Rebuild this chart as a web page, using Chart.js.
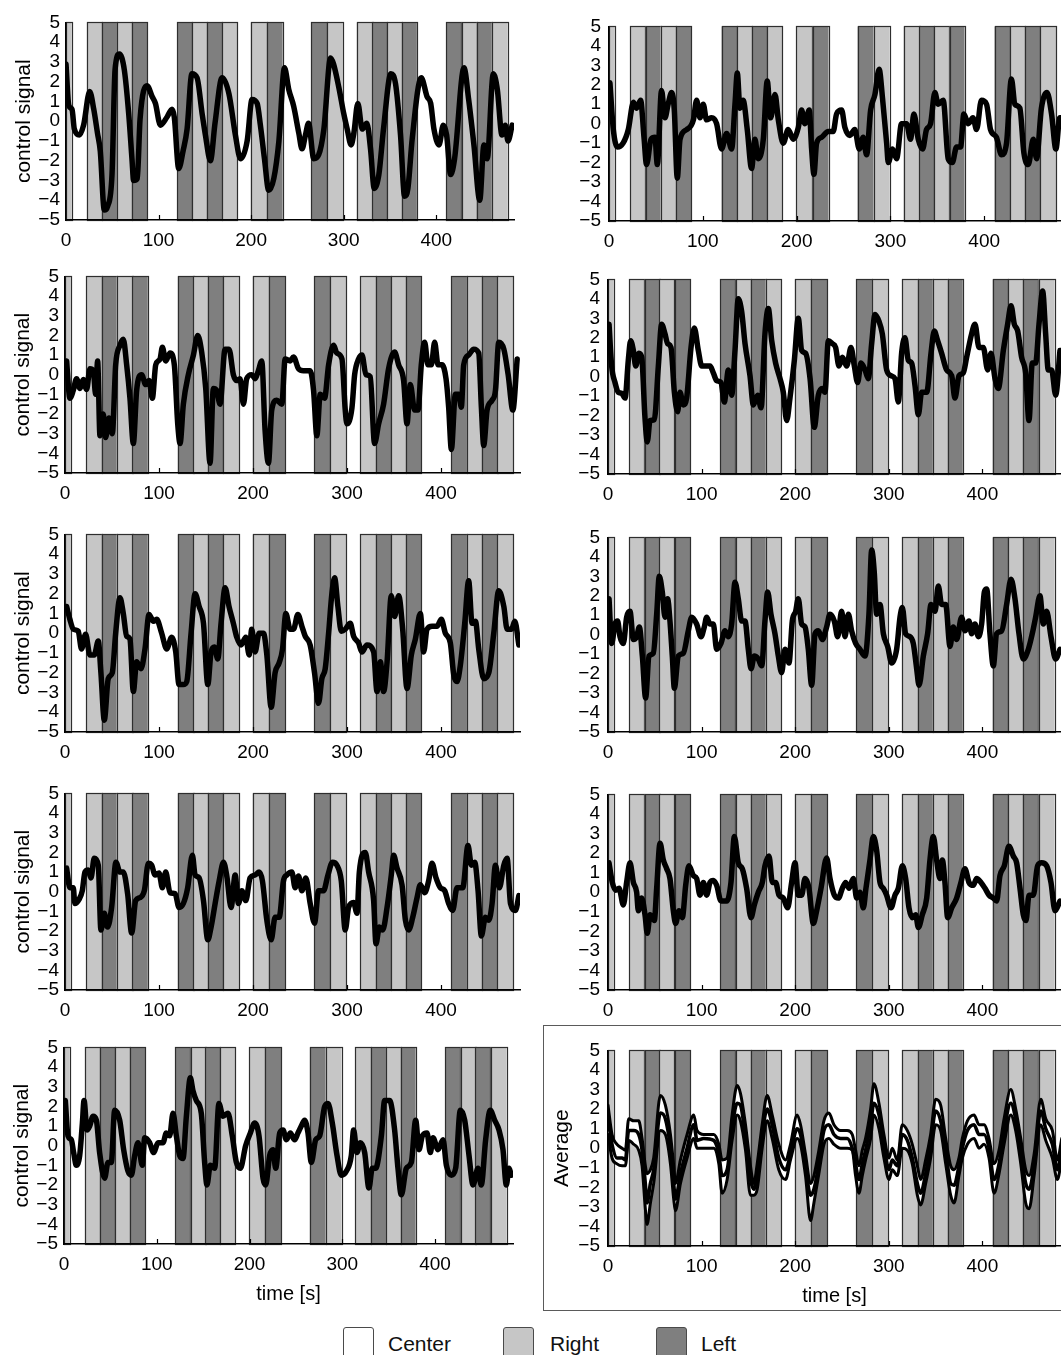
<!DOCTYPE html>
<html>
<head>
<meta charset="utf-8">
<script src="https://cdn.jsdelivr.net/npm/chart.js@4.4.0/dist/chart.umd.min.js"></script>
<style>
  html, body { margin: 0; padding: 0; background: #fff; }
  body { width: 1061px; height: 1355px; overflow: hidden; position: relative; font-family: 'Liberation Sans', Arial, sans-serif; }
  canvas { position: absolute; }
  .frame { position: absolute; left: 543px; top: 1025px; width: 540px; height: 284px; border: 1px solid #5a5a5a; }
  .key { position: absolute; top: 1327px; width: 31px; height: 34px; border: 1px solid #4a4a4a; border-radius: 3px; box-sizing: border-box; }
  .keytxt { position: absolute; top: 1333px; font-size: 21px; line-height: 21px; color: #111; }
</style>
</head>
<body>
<div class="frame"></div>
<div class="key" style="left:343px; background:#ffffff;"></div>
<div class="keytxt" style="left:388px;">Center</div>
<div class="key" style="left:503px; background:#c6c6c6;"></div>
<div class="keytxt" style="left:550px;">Right</div>
<div class="key" style="left:656px; background:#7f7f7f;"></div>
<div class="keytxt" style="left:701px;">Left</div>
<script>
// stimulus blocks (seconds)
const blockStart = [0, 22.5, 39, 55, 71.5, 120, 136.5, 152.5, 168.5, 199.5, 217, 265, 282, 314, 331, 347, 363, 411, 427.5, 443.5, 460];
const blockEnd   = [6, 39, 55, 71.5, 88, 136.5, 152.5, 168.5, 185, 217, 234, 282, 299, 331, 347, 363, 379, 427.5, 443.5, 460, 477];
const blockCond  = ['Right','Right','Left','Right','Left','Left','Right','Left','Right','Right','Left','Left','Right','Right','Left','Right','Left','Left','Right','Left','Right'];

const xTicks = [0, 100, 200, 300, 400];
const yTicks = [-5, -4, -3, -2, -1, 0, 1, 2, 3, 4, 5];

// control signals, [time s, value]
const sigL1 = [[0,2.9],[3,0.8],[6.5,0.6],[9,-0.4],[14.4,-0.7],[19,-0.2],[25.6,1.5],[30,0.6],[34,-0.6],[37,-1.5],[41.4,-4.5],[45,-4.3],[49.7,-2.7],[53,2.6],[57.7,3.4],[63,2.6],[67.7,0.4],[71.4,-2.0],[73,-3.0],[77,-2.9],[80,0.1],[87.6,1.8],[93,1.25],[96.6,0.9],[102,-0.2],[109,0.2],[114.6,0.6],[117,0.2],[121.8,-2.4],[126.5,-1.5],[130.8,-0.4],[136,2.4],[141.6,2.2],[147,0.4],[150.6,-0.7],[156,-2.0],[161,-0.1],[168.6,2.2],[176,1.4],[183,-0.7],[188.5,-1.9],[195.7,-1.0],[201,1.1],[206.5,0.9],[210,-0.2],[214.4,-1.9],[219,-3.5],[224.5,-2.9],[230,-1.0],[236,2.7],[240.7,1.6],[246,0.75],[251.5,-0.6],[255,-1.4],[258.7,-0.7],[262,-0.1],[267.7,-1.9],[273,-1.7],[278.6,-0.4],[285.8,3.2],[289,2.9],[294.8,1.7],[300,0.4],[303.8,-0.4],[308,-1.2],[311,-0.6],[315.3,0.9],[320,-0.4],[325,-0.1],[329,-1.4],[333,-3.4],[338,-2.7],[343,-0.4],[351,2.4],[356,1.9],[361.4,-0.7],[365.8,-3.8],[369.4,-3.4],[374,-0.9],[383.8,2.2],[390,1.25],[394,0.9],[397.5,-0.4],[403,-1.2],[407.6,-0.2],[411.2,-0.7],[415.5,-2.7],[419.8,-1.9],[430,2.7],[435,1.1],[440.7,-1.2],[447,-4.0],[451.5,-1.2],[455,-1.9],[461.6,2.4],[466,1.6],[471,-0.7],[474.6,-0.2],[477.5,-1.0],[482,-0.2]];

const sigL2 = [[1.7,0.7],[5.2,-1.2],[8.8,-0.8],[12.3,-0.2],[15.9,-0.7],[19.4,-0.25],[23,-0.75],[26.5,0.3],[30.1,0.2],[32.6,-1.0],[34.7,0.7],[37.2,-3.1],[40.7,-2.0],[43.2,-3.2],[46.8,-2.2],[50.3,-3.0],[53.9,0.5],[58.5,1.5],[62,1.8],[65.6,0.5],[69.1,-1.2],[72.7,-3.5],[76.2,-0.8],[81.5,0],[85.8,-0.5],[89.4,-0.3],[92.9,-1.2],[96.5,0.5],[101.1,0.8],[103.6,1.4],[107.1,0.7],[111.7,1.1],[116.3,0.5],[119.9,-2.5],[122.4,-3.5],[125.9,-1.5],[131.2,0],[136.6,1.0],[141.2,2.0],[145.4,1.15],[149.7,-0.7],[154.3,-4.5],[157.8,-0.7],[161.4,-0.8],[164.9,-1.5],[170.3,1.3],[174.5,1.3],[179.1,0],[182.7,-0.3],[186.2,-0.2],[189.8,-1.5],[193.3,-0.2],[198.6,0],[202.2,-0.2],[205.7,0.2],[209.3,0.7],[212.8,-2.8],[216.4,-4.5],[219.9,-1.8],[225.3,-1.3],[230.6,-1.5],[234.2,0.8],[239.5,0.7],[243.1,0.9],[248.4,0.3],[253.7,0.2],[260.8,0.2],[264.4,-0.8],[267.9,-3.1],[271.5,-1.0],[276.1,-1.2],[280.4,0.5],[285.7,1.5],[289.2,1.1],[294.6,0.8],[298.1,-1.8],[299.9,-2.5],[305.2,-1.7],[308.1,0],[312.3,0.8],[315.9,1.0],[320.1,0],[324.7,-0.1],[329.3,-3.5],[333.6,-2.5],[338.9,-1.5],[344.2,0.3],[350.6,1.15],[354.9,0.5],[360.2,-0.3],[363.8,-2.5],[367.3,-0.5],[371.9,-1.8],[375.5,-1.8],[379,0.5],[382.6,1.65],[386.1,0.5],[389.7,0.5],[393.2,1.65],[396.8,0.5],[401,0.5],[405.3,-0.2],[408.1,-1.65],[411,-3.8],[415.2,-1.0],[418.8,-1.0],[421.6,-1.65],[424.1,0.5],[429.4,1.0],[434.8,1.3],[440.1,1.1],[442.9,-1.65],[445.4,-3.6],[449,-1.8],[454.3,-1.3],[457.9,-0.8],[461.4,1.65],[466.8,1.3],[471.4,0],[476.4,-1.8],[481,0.8]];

const sigL3 = [[1.7,1.35],[5.2,0.7],[8.8,0.2],[14.1,0.1],[17.6,-0.8],[21.9,-0.05],[26.5,-1.1],[31.1,-1.1],[35.4,-0.4],[38.2,-2.0],[41.8,-4.4],[46,-2.3],[50.3,-2.0],[53.9,0],[58.5,1.8],[62,1.0],[65.6,-0.15],[69.1,-0.3],[72.7,-2.95],[76.2,-1.45],[80.8,-1.8],[85.1,-0.8],[89.4,0.95],[94,0.6],[97.5,0.7],[102.8,0],[108.2,-0.8],[113.5,-0.2],[117.8,-0.95],[121.3,-2.6],[125.9,-2.6],[129.5,-2.45],[134.1,0],[138.4,2.0],[142.7,1.35],[147.3,0.5],[151.9,-2.6],[155.4,-0.95],[158.9,-0.7],[162.5,-1.3],[166,0.5],[170.3,2.3],[174.5,1.35],[179.1,0.5],[182.7,-0.2],[187.3,-0.6],[192.3,-0.2],[195.9,-1.1],[198.6,0.2],[202.2,-0.95],[206.5,0],[211.1,0],[214.7,-1.1],[219.3,-3.75],[223.5,-2.0],[227.8,-1.5],[231.4,-0.8],[234.9,1.0],[239.5,0.2],[243.1,0.2],[247.7,0.95],[252,0.35],[255.5,-0.15],[260.8,-0.6],[265.4,-2.0],[269.7,-3.55],[273.2,-2.3],[276.8,-1.8],[280.4,0],[283.9,2.0],[286.8,2.8],[290.3,1.35],[293.9,0.1],[298.1,0.2],[303.4,0.5],[307,-0.15],[312.3,-0.5],[315.9,-0.95],[321.2,-0.6],[328.3,-0.95],[331.9,-2.95],[335.5,-1.45],[338.9,-2.95],[342.6,-1.45],[347.1,1.9],[350.6,0.85],[354.9,1.9],[359.2,0.2],[363.8,-2.8],[368.4,-1.1],[372.7,-0.3],[378,1.0],[381.5,-0.95],[385.1,0.2],[390.4,0.35],[395.7,0.35],[400.3,0.7],[404.6,0],[409.9,-0.5],[413.5,-2.1],[417,-2.45],[420.6,-1.6],[425.2,0.5],[429.4,2.65],[433,0.5],[436.6,0.6],[440.1,-0.8],[445.4,-2.3],[450.8,-2.0],[456.1,0],[461.4,2.15],[466.8,1.35],[470.3,0.2],[475,0.2],[478.5,0.6],[482.8,-0.6]];

const sigL4 = [[1.7,1.2],[5.2,0.2],[8.8,0.2],[10.5,-0.6],[14.8,-0.4],[18.4,0.05],[21.2,1.0],[24.7,1.1],[27.6,0.7],[31.1,1.7],[35.4,1.35],[38.2,-1.95],[41.8,-1.1],[45.3,-1.8],[49.6,-0.8],[54.2,1.5],[58.5,1.0],[62,1.0],[66.6,-0.1],[70.9,-2.1],[75.2,-0.45],[79.8,-0.3],[84.4,0.05],[88.7,1.45],[92.2,1.35],[95.8,0.85],[100,0.95],[103.6,0.2],[107.1,1.0],[111.7,-0.05],[117.1,-0.1],[121.3,-0.8],[125.9,-0.6],[130.5,0.2],[135.5,1.85],[138.4,0.85],[142.7,0.7],[147.3,-0.45],[151.9,-2.45],[155.4,-1.8],[159.7,-0.6],[164,0.55],[168.6,1.5],[172.1,0.8],[176.7,-0.8],[181,0.85],[184.5,-0.6],[188.1,0.05],[192.3,-0.45],[196.9,0.7],[202.2,0.85],[206.5,1.0],[210,0.55],[214.7,-1.45],[219.3,-2.45],[223.5,-1.3],[227.8,-1.3],[232.4,0.55],[236,0.85],[241.3,1.0],[244.8,0.2],[248.4,0.8],[252,0.05],[256.2,0.7],[260.8,-0.6],[265.4,-1.6],[269.7,0.05],[275,0.05],[279.7,0.85],[284.6,1.5],[289.2,1.35],[293.9,0.55],[298.1,-1.95],[301.7,-0.8],[307,-0.55],[310.6,-1.1],[313.1,1.0],[319.4,2.0],[323,1.0],[328.3,-0.45],[330.8,-2.65],[334.4,-1.8],[337.9,-1.95],[342.6,-0.8],[347.1,0.85],[349.6,1.85],[353.2,1.2],[358.5,0.35],[362.1,-1.45],[365.6,-1.95],[369.9,-1.3],[374.5,-0.3],[378,0.35],[382.6,-0.05],[386.8,0.55],[390.4,1.45],[394.7,0.7],[399.3,0.2],[403.9,0.05],[408.1,-0.6],[412.4,-0.95],[417,0.2],[423.1,0.2],[428.7,2.35],[432.3,1.35],[435.8,1.5],[439.4,0.05],[442.9,-2.25],[447.2,-1.3],[450.8,-1.45],[454.3,-0.6],[457.9,1.35],[462.1,0.2],[466.8,1.35],[470.3,1.7],[473.9,-0.6],[479.2,-0.95],[482.8,-0.2]];

const sigL5 = [[1.4,2.3],[4.3,0.5],[7.9,0.3],[10.4,-0.35],[13.3,-1.0],[16.9,-0.5],[19.8,1.15],[21.6,2.3],[24.8,0.8],[27.7,1.0],[31.3,1.5],[34.9,1.3],[38.4,-0.35],[43.8,-1.65],[47.4,-0.85],[51,-0.85],[54.6,1.8],[60,1.3],[64.3,-0.2],[69,-1.3],[72.6,-1.5],[76.2,-0.5],[79.8,0.15],[84.4,-1.0],[87,0.4],[92.3,0.15],[96.7,-0.35],[101.3,0.15],[106.7,0.15],[110.3,0.65],[113.9,0.5],[117.5,1.65],[121.1,0.5],[124.7,-0.5],[128.3,-0.65],[131.9,1.5],[136.2,3.45],[139,2.8],[142.6,2.3],[148,1.65],[151.6,-0.85],[154.1,-2.0],[157.7,-1.0],[162.4,-1.15],[167,2.15],[171.4,1.5],[176.8,1.65],[181.4,0.5],[185.8,-0.85],[190.1,-1.15],[195.8,0],[200.9,0.65],[205.5,1.15],[210.2,0.5],[214.5,-1.65],[217.4,-2.0],[221.7,-0.5],[225.3,-0.2],[228.2,-1.15],[232.5,0.65],[236.1,0.8],[239.7,0.3],[244,0.65],[248.6,0.3],[252.2,0.65],[255.8,1.0],[259.4,1.3],[263,0.65],[266.6,-0.85],[271.3,0.3],[275.6,0.5],[281,2.0],[284.6,2.15],[289.2,1.15],[294.3,-0.5],[298.9,-1.5],[304.3,-1.3],[309.7,-0.5],[312.2,0.8],[315.8,-0.35],[319.4,0.15],[324.1,-0.35],[328.7,-2.15],[332.3,-1.15],[335.9,-1.15],[342.1,0.5],[345.6,2.3],[351,2.3],[356.4,0.8],[360,-1.15],[363.6,-2.5],[369,-1.15],[374.4,-0.85],[379.1,1.3],[382.7,-0.2],[386.3,0.5],[391.3,0.65],[394.9,-0.35],[397.8,0.4],[403.2,-0.2],[408.6,0.3],[412.2,-1.0],[417.6,-1.5],[422.2,-1.15],[427.2,1.8],[431.9,1.3],[436.6,-0.5],[440.9,-2.0],[446.3,-1.15],[449.8,-2.0],[454.5,0.3],[459.5,1.8],[464.2,1.3],[468.9,0.8],[473.2,-0.2],[476.8,-2.0],[479.7,-1.15],[482.2,-1.5]];

const sigR1 = [[1,2.1],[4.6,-0.3],[9,-1.2],[15,-1.0],[20.6,-0.3],[26,1.1],[29.5,0.8],[33.7,1.2],[37.3,-0.7],[40,-2.1],[44.8,-0.8],[49,-0.7],[51.5,-2.1],[56,1.7],[59.7,0.3],[63,1.0],[66.8,1.6],[69.6,0.7],[72.8,-2.8],[75.7,-0.8],[82.8,-0.3],[90,0.2],[93.4,1.2],[97,0.3],[100.5,1.0],[104,0.2],[109.4,0.3],[114.7,0],[120,-1.3],[125.4,-0.5],[130.7,-1.3],[134.3,1.0],[136.8,2.6],[139.6,0.8],[143,1.2],[147.4,-0.3],[152,-2.3],[155.6,-0.8],[159,-1.8],[164.5,-0.8],[168.7,2.2],[172.3,0.3],[177,1.5],[180.5,0.2],[185.8,-1.0],[191,-0.3],[196.4,-0.8],[201.8,-0.2],[205.3,0.7],[208.9,0],[213.5,0.7],[216,-1.3],[218.5,-2.6],[221.3,-1.0],[226.6,-0.7],[233.7,-0.4],[239,-0.4],[242.6,0.5],[248,0.7],[251.5,-0.2],[256.8,-0.6],[262,-0.3],[266.8,-1.3],[271,-0.7],[274.6,-1.6],[278.9,0.7],[283.5,1.5],[288,2.8],[291.6,1.3],[296,-1.0],[297.7,-2.0],[302.3,-1.3],[306.6,-1.8],[311.9,0],[317.2,0],[321.5,-0.8],[325,0.5],[329.7,-0.8],[334.3,-1.3],[338.5,-0.3],[342.8,0],[347.4,1.6],[351,1.0],[356.3,1.2],[361.6,-1.8],[366,-2.0],[370.5,-1.2],[374.8,-1.2],[378.3,0.5],[383,0],[388,0.3],[391.9,-0.3],[397,1.2],[402.5,1.0],[406.7,-0.3],[413,-0.7],[418.5,-1.6],[423.8,-1.0],[429,2.3],[432.7,1.0],[438,0.8],[442.3,-1.5],[447,-2.1],[452.3,-0.8],[455.8,-1.8],[461,0.8],[467,1.6],[471.8,0.5],[476.4,-1.3],[480.6,0.3],[484,0.3]];

const sigR2 = [[1.1,2.7],[3.9,0.55],[7.5,-0.3],[11,-0.8],[14.6,-0.85],[18.2,-1.1],[21.7,0.85],[24.2,1.85],[27.1,1.35],[29.6,0.55],[33.1,1.2],[36,1.0],[39.5,-2.1],[42,-3.35],[44.9,-2.25],[49.5,-2.2],[53.8,0.55],[57.3,2.7],[60.9,2.2],[63.7,1.7],[67.3,1.5],[70.9,-0.8],[74.4,-1.8],[76.9,-0.8],[80.5,-1.45],[84,-1.1],[88.7,1.5],[92.2,2.5],[96.5,1.35],[100.1,0.55],[104.3,0.55],[109,0.55],[112.5,0.2],[116.1,-0.2],[120.7,-0.3],[124.3,-1.3],[128.6,0.35],[132.1,-0.95],[135.7,1.35],[139.2,4.0],[142.8,3.35],[146.4,1.7],[151.7,0.05],[155.3,-1.45],[159.9,-0.95],[163.5,-1.6],[167.7,2.2],[171.3,3.5],[174.9,1.85],[179.1,0.7],[183.8,-0.1],[187.3,-0.8],[190.9,-2.25],[194.4,-1.1],[199.1,0.85],[203.3,3.0],[206.9,1.35],[211.2,1.2],[215.9,-0.1],[220.4,-2.6],[224.7,-0.95],[229,-0.6],[231.8,-0.8],[235.4,1.85],[239.7,1.7],[243.2,1.5],[246.8,0.55],[250.4,1.0],[255,0.55],[259.6,1.5],[263.2,0.55],[266.7,-0.3],[270.3,0.7],[274.6,0.35],[278.1,-0.1],[281.7,1.7],[285.3,3.2],[289.5,2.85],[293.1,2.2],[297.7,0.35],[302.4,0.05],[306.6,-0.1],[310.2,-1.3],[313.7,1.2],[317.3,2.0],[320.8,0.85],[324.4,0.7],[328,-0.45],[331.6,-1.95],[335.1,-0.8],[340.5,-0.8],[345.1,1.2],[348.6,2.35],[352.2,1.85],[356.5,1.2],[361.8,0.35],[367.2,0.05],[370.7,-1.1],[375,0.05],[379.6,0.2],[383.2,1.0],[388.5,2.2],[392.1,2.7],[396.4,1.5],[401,1.5],[405.6,0.35],[409.2,1.2],[413.5,-0.1],[417,-0.6],[422.4,1.35],[427,2.7],[430.6,3.65],[434.1,2.7],[437.7,2.35],[441.9,1.0],[446.2,0.2],[449.8,-2.25],[453.3,0.7],[456.9,0.7],[460.5,2.7],[464.4,4.4],[467.6,2.2],[470.4,0.35],[474,0.35],[478.3,-0.95],[482.9,1.35]];

const sigR3 = [[1.1,1.85],[3.9,-0.45],[7.5,0.55],[10.3,0.7],[12.8,-0.1],[16.4,-0.45],[19.9,0.9],[23.5,1.2],[27.1,-0.25],[30.6,-0.1],[33.5,0.4],[36.7,-1.1],[40.2,-3.25],[43.8,-1.1],[48.4,-0.95],[52,1.05],[54.8,3.0],[58,2.2],[60.9,0.9],[63.7,1.85],[66.2,0.7],[68.7,-1.1],[70.9,-2.75],[75.1,-1.1],[80.5,-0.95],[85.8,0.2],[89.4,0.9],[94.7,0.55],[99.4,-0.1],[102.9,0.4],[105.4,0.9],[109,0.55],[112.5,0.55],[116.1,-0.75],[120.7,-0.45],[125,0.2],[128.6,-0.1],[132.1,0.55],[135.7,2.7],[139.2,1.85],[142.8,0.7],[146.4,0.7],[149.9,-0.75],[152.8,-1.75],[156.3,-1.1],[160.6,-1.25],[164.2,-1.6],[167.7,0.7],[170.6,2.2],[174.1,1.05],[178.4,0.05],[182,-1.1],[185.5,-1.95],[189.1,-0.75],[193.4,-1.45],[196.9,0.7],[200.5,1.2],[203.3,1.85],[206.9,0.55],[210.5,0.4],[214,-0.75],[217.6,-2.6],[221.2,0.05],[224.7,0.2],[229,-0.25],[233.6,0.4],[237.2,1.05],[241.8,0.7],[245.4,-0.1],[249.6,1.2],[253.2,-0.1],[256.8,1.05],[260.3,0.2],[264.6,-0.45],[269.2,-0.75],[274.6,-1.1],[278.8,1.05],[281.7,4.35],[284.5,3.2],[287,1.05],[290.6,1.55],[294.2,0.05],[298.8,-0.6],[303.1,-1.45],[308.4,-0.75],[312,0.9],[314.5,1.4],[318,0.05],[322.6,-0.1],[326.2,-0.45],[329.8,-1.75],[332.3,-2.6],[336.9,-1.1],[341.5,0.05],[345.1,1.55],[349.4,1.2],[352.9,2.5],[356.5,1.55],[360.8,1.55],[365.4,-0.6],[368.9,0.4],[372.5,-0.25],[377.8,0.9],[381.4,0.2],[385.7,0.7],[388.5,0.05],[392.1,0.55],[395.7,-0.1],[399.2,0.55],[402.1,2.2],[404.6,2.35],[408.1,0.05],[411.7,-1.6],[415.2,0.05],[420.6,0.2],[425.9,1.55],[430.6,2.85],[434.8,1.85],[439.1,0.05],[443.7,-1.25],[449.1,-0.75],[453.3,0.05],[456.9,0.9],[461.5,2.0],[465.1,0.55],[468.7,1.2],[473.3,-0.1],[478.3,-1.25],[482.9,-0.75]];

const sigR4 = [[1.1,1.5],[4.6,0.5],[8.2,0.1],[11.8,0.2],[16.4,-0.65],[19.9,0.5],[23.5,1.5],[27.1,0.5],[30.6,0],[32.4,-0.95],[36,-0.3],[39.5,-1.15],[42,-2.1],[44.9,-1.15],[49.5,-1.45],[52,0.2],[55.6,2.5],[59.1,1.65],[62.7,1.2],[66.2,0.7],[69.8,-0.95],[72.3,-1.6],[75.8,-0.95],[79.4,-1.3],[83,0.35],[86.5,1.35],[91.2,0.85],[94.7,0.7],[98.3,-0.15],[101.9,0.5],[105.4,-0.15],[109,0.5],[112.5,0.6],[116.1,0.35],[120.7,-0.45],[126.8,-0.45],[131.4,0.5],[135,2.85],[139.2,1.5],[143.5,1.2],[148.1,0.2],[152.8,-1.3],[156.3,-0.65],[160.6,0],[164.9,0.5],[167.7,1.35],[172,1.85],[175.6,0.5],[179.1,0.5],[182.7,-0.15],[187.3,-0.3],[191.9,-0.8],[196.2,0.5],[199.8,1.5],[203.3,-0.15],[206.9,-0.15],[210.5,0.7],[214.7,0.2],[219.4,-1.6],[222.9,-0.95],[227.6,0.2],[233.6,1.75],[237.2,0.7],[241.8,-0.15],[246.1,-0.3],[250.4,0.2],[253.9,0.5],[257.5,0.2],[262.1,0.7],[265.7,-0.3],[269.2,0],[272.8,-0.8],[275.6,0.2],[279.9,1.65],[283.5,2.85],[287,2.15],[290.6,0.5],[294.2,0.2],[297.7,-0.15],[302.4,-0.8],[306.6,-0.15],[310.2,0.2],[314.5,1.35],[318,0.7],[321.6,-0.8],[325.1,-1.3],[328.7,-1.15],[331.6,-1.8],[335.8,-1.15],[340.5,-0.3],[344,1.65],[347.6,2.85],[351.1,1.65],[354.7,0.7],[357.2,1.65],[360,0.5],[362.9,-1.3],[367.2,-0.8],[372.5,-0.3],[377.1,0.5],[381.4,1.2],[385.7,0.5],[390.3,0.35],[393.9,0.7],[398.5,0.5],[402.8,0.2],[407.1,-0.15],[411.7,-0.3],[415.2,-0.45],[418.8,0.85],[423.4,1.35],[428.4,2.35],[433,1.85],[436.6,1.5],[440.2,0.2],[443.7,-1.15],[446.6,-1.45],[449.8,-0.15],[454.4,-0.15],[459,1.35],[463.3,1.5],[468.7,1.35],[473.3,0.5],[477.6,-0.95],[482.9,-0.45]];

// average panel: time, upper, mean, lower
const avgT = [0,4.3,9.6,15,18.5,22.1,27.5,32.8,36.4,39.9,41.7,45.3,48.8,56,61.3,66.7,70.2,72,77.4,84.5,91.6,95.2,102.3,113,118.4,121.9,127.3,132.6,138,141.5,146.9,152.2,155.8,159.4,164.7,170.1,175.4,182.5,189.7,195,202.1,205.7,211,216.4,220,225.3,230.7,236,241.4,248.5,255.6,261,264.5,268.1,271.7,275.2,280.6,284.1,289.5,294.8,300.2,303.7,309.1,314.4,319.8,325.1,330.5,334,339.4,344.7,350.1,355.4,360.8,366.1,369.7,375,378.6,384,391.1,396.4,401.8,407.1,412.5,417.8,423.2,430.3,435.6,441,446.3,449.9,455.3,462.4,467.7,474.8,480.2,484.8];
const avgUp = [2.2,0.7,0.2,0.0,-0.1,1.5,1.4,1.4,0.5,-0.9,-1.3,-1.1,-0.5,2.7,2.2,0.7,-0.9,-1.8,-0.6,0.7,1.7,0.9,0.7,0.7,0.2,-0.6,-0.5,1.7,3.2,2.8,1.2,-0.9,-1.8,-0.8,1.2,2.7,1.7,0.2,-0.6,0.2,1.7,1.2,-0.3,-1.8,-1.4,-0.1,1.4,1.8,1.2,0.9,0.9,0.7,-0.1,-0.9,-0.1,0.5,2.0,3.3,2.3,0.7,-0.5,0.0,-0.6,1.2,0.9,0.2,-0.9,-1.6,-0.6,0.7,2.5,2.2,0.5,-0.9,-1.1,-0.5,0.5,1.4,1.7,1.2,1.2,0.5,-0.8,-0.1,1.5,3.0,2.0,0.5,-1.1,-1.4,-0.3,2.5,1.5,0.9,-0.6,0.5];
const avgMid = [1.5,0.2,-0.5,-0.5,-0.6,0.9,0.9,0.7,-0.1,-1.8,-2.8,-1.8,-1.1,1.8,1.5,0.0,-1.8,-2.6,-1.3,0.0,1.2,0.4,0.5,0.4,-0.3,-1.4,-1.1,1.0,2.3,2.2,0.5,-1.6,-2.1,-1.4,0.7,2.0,1.2,-0.5,-1.1,-0.3,1.0,0.7,-0.9,-2.4,-2.1,-0.8,0.9,1.2,0.7,0.5,0.5,0.0,-0.8,-1.6,-0.8,-0.1,1.2,2.3,1.7,0.2,-1.1,-0.6,-0.9,0.7,0.4,-0.5,-1.8,-2.3,-1.3,0.2,1.9,1.4,-0.1,-1.8,-1.9,-0.9,0.0,0.9,1.2,0.7,0.7,0.0,-1.6,-0.8,0.9,2.3,1.5,-0.1,-1.8,-2.1,-0.9,1.9,1.0,0.2,-1.1,0.0];
const avgLo = [0.7,-0.5,-0.8,-0.9,-0.9,0.4,0.2,-0.1,-0.9,-3.1,-3.9,-2.8,-1.8,0.9,0.7,-0.8,-2.6,-3.2,-1.8,-0.5,0.5,0.0,0.0,0.0,-0.8,-2.3,-1.6,0.4,1.7,1.4,-0.1,-2.4,-2.4,-2.1,0.0,1.4,0.5,-1.1,-1.6,-0.6,0.5,0.2,-1.4,-3.7,-2.8,-1.3,0.2,0.5,0.2,0.0,0.0,-0.1,-1.4,-2.3,-1.4,-0.6,0.5,1.7,1.0,-0.5,-1.6,-1.1,-1.4,0.0,-0.1,-0.8,-2.4,-2.9,-1.8,-0.5,1.2,0.9,-0.8,-2.4,-2.8,-1.4,-0.5,0.2,0.5,0.0,0.2,-0.5,-2.3,-1.3,0.2,1.7,0.9,-0.8,-2.8,-3.1,-1.4,1.2,0.4,-0.5,-1.6,-0.5];

const condColor = { Right: '#c6c6c6', Left: '#7f7f7f' };

Chart.defaults.font.family = "'Liberation Sans', Arial, Helvetica, sans-serif";
Chart.defaults.color = '#000';

// panel placement: plot-area left/top and size in page pixels
const panels = [
  { sig: sigL1, left: 66, top: 17, w: 448, h: 203, yTitle: 'control signal' },
  { sig: sigL2, left: 65, top: 271, w: 455, h: 202, yTitle: 'control signal' },
  { sig: sigL3, left: 65, top: 529, w: 455, h: 203, yTitle: 'control signal' },
  { sig: sigL4, left: 65, top: 788, w: 455, h: 202, yTitle: 'control signal' },
  { sig: sigL5, left: 64, top: 1042, w: 449, h: 202, yTitle: 'control signal', xTitle: 'time [s]' },
  { sig: sigR1, left: 609, top: 19, w: 454, h: 202 },
  { sig: sigR2, left: 608, top: 272, w: 453, h: 202 },
  { sig: sigR3, left: 608, top: 530, w: 453, h: 202 },
  { sig: sigR4, left: 608, top: 787, w: 453, h: 203 },
  { avg: true, left: 608, top: 1043, w: 453, h: 203, yTitle: 'Average', xTitle: 'time [s]', titlePad: 8 }
];

const blocksPlugin = {
  id: 'blocks',
  beforeDraw(chart) {
    const { ctx, scales: { x, y } } = chart;
    const yTop = y.getPixelForValue(5), yBot = y.getPixelForValue(-5);
    ctx.save();
    blockStart.forEach((s, i) => {
      const x0 = x.getPixelForValue(s), x1 = x.getPixelForValue(blockEnd[i]);
      ctx.fillStyle = condColor[blockCond[i]];
      ctx.fillRect(x0, yTop, x1 - x0, yBot - yTop);
      ctx.strokeStyle = '#2e2e2e';
      ctx.lineWidth = 1.2;
      ctx.strokeRect(Math.round(x0) + 0.5, Math.round(yTop) + 0.5, Math.round(x1 - x0), Math.round(yBot - yTop));
    });
    ctx.restore();
  }
};

// small inward tick marks on the time axis
const inTicksPlugin = {
  id: 'inTicks',
  beforeDatasetsDraw(chart) {
    const { ctx, scales: { x, y } } = chart;
    const yb = y.getPixelForValue(-5);
    ctx.save();
    ctx.strokeStyle = '#000';
    ctx.lineWidth = 1.2;
    xTicks.forEach(v => {
      if (v === 0) return;
      const px = Math.round(x.getPixelForValue(v)) + 0.5;
      ctx.beginPath();
      ctx.moveTo(px, yb);
      ctx.lineTo(px, yb - 5);
      ctx.stroke();
    });
    ctx.restore();
  }
};

function toXY(pairs) { return pairs.map(p => ({ x: p[0], y: p[1] })); }
function zipXY(ts, vs) { return ts.map((t, i) => ({ x: t, y: vs[i] })); }

panels.forEach(p => {
  const yW = 66, padTop = 12, padRight = 6;
  const xH = p.xTitle ? 66 : 40;
  const c = document.createElement('canvas');
  c.width = yW + p.w + padRight;
  c.height = padTop + p.h + xH;
  c.style.left = (p.left - yW) + 'px';
  c.style.top = (p.top - padTop) + 'px';
  document.body.appendChild(c);

  let datasets;
  if (p.avg) {
    datasets = [
      { data: zipXY(avgT, avgUp), borderColor: '#000', borderWidth: 3, fill: { target: 2 }, backgroundColor: '#fff' },
      { data: zipXY(avgT, avgMid), borderColor: '#000', borderWidth: 3.5, fill: false },
      { data: zipXY(avgT, avgLo), borderColor: '#000', borderWidth: 3, fill: false }
    ];
  } else {
    datasets = [{ data: toXY(p.sig), borderColor: '#000', borderWidth: 5.5, fill: false }];
  }
  datasets.forEach(d => {
    d.pointRadius = 0;
    d.cubicInterpolationMode = 'monotone';
    d.borderJoinStyle = 'round';
    d.borderCapStyle = 'round';
  });

  const tp = p.titlePad !== undefined ? p.titlePad : 12;
  new Chart(c, {
    type: 'line',
    data: { datasets },
    plugins: [blocksPlugin, inTicksPlugin],
    options: {
      responsive: false,
      animation: false,
      devicePixelRatio: 1,
      layout: { padding: { top: padTop, right: padRight, left: 0, bottom: 0 } },
      plugins: {
        legend: { display: false },
        tooltip: { enabled: false },
        filler: { drawTime: 'beforeDatasetsDraw' }
      },
      scales: {
        x: {
          type: 'linear', min: 0, max: 484,
          grid: { display: false, drawTicks: false },
          border: { display: true, color: '#000', width: 1.5 },
          afterBuildTicks: s => { s.ticks = xTicks.map(v => ({ value: v })); },
          afterFit: s => { s.height = xH; },
          ticks: { font: { size: 19 }, padding: 9, maxRotation: 0, autoSkip: false, color: '#000' },
          title: { display: !!p.xTitle, text: p.xTitle || '', font: { size: 20 }, color: '#000', padding: { top: 4, bottom: 4 } }
        },
        y: {
          min: -5, max: 5,
          grid: { display: false, drawTicks: false },
          border: { display: true, color: '#000', width: 1.5 },
          afterBuildTicks: s => { s.ticks = yTicks.map(v => ({ value: v })); },
          afterFit: s => { s.width = yW; },
          ticks: {
            font: { size: 19 }, padding: p.left > 300 ? 8 : 6, autoSkip: false, color: '#000',
            callback: v => (v < 0 ? '\u2212' + Math.abs(v) : String(v))
          },
          title: { display: !!p.yTitle, text: p.yTitle || '', font: { size: 21 }, color: '#000', padding: { top: tp, bottom: tp } }
        }
      }
    }
  });
});
</script>
</body>
</html>
